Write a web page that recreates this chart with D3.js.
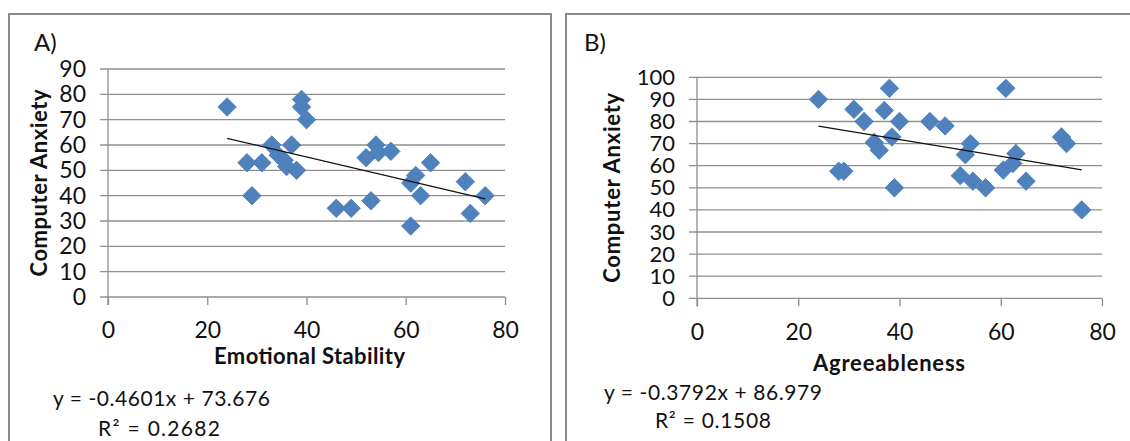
<!DOCTYPE html>
<html>
<head>
<meta charset="utf-8">
<script src="https://cdn.jsdelivr.net/npm/d3@7"></script>
<style>
  html, body { margin: 0; padding: 0; background: #fff; }
  svg { display: block; }
  text { font-family: Lato, "Open Sans", sans-serif; fill: #111; }
</style>
</head>
<body>
<svg id="chart" width="1130" height="441"></svg>
<script>
// ---- Data ----
const panelLabels = ["A)", "B)"];
const xTitles = ["Emotional Stability", "Agreeableness"];
const yTitle = "Computer Anxiety";
const xTickValues = [0, 20, 40, 60, 80];
const yTickValuesA = [0, 10, 20, 30, 40, 50, 60, 70, 80, 90];
const yTickValuesB = [0, 10, 20, 30, 40, 50, 60, 70, 80, 90, 100];

// Panel A: Emotional Stability vs Computer Anxiety
const esX = [24, 28, 29, 31, 33, 34.3, 35.5, 36, 37, 38, 39, 39, 40, 46, 49, 52, 53, 54, 54.5, 57, 61, 61, 62, 63, 65, 72, 73, 76];
const esY = [75, 53, 40, 53, 60, 56, 54, 51.5, 60, 50, 78, 75, 70, 35, 35, 55, 38, 60, 57, 57.5, 28, 45, 48, 40, 53, 45.5, 33, 40];
const trendA = { slope: -0.4601, intercept: 73.676, r2: 0.2682 };
const eqTextA = ["y = -0.4601x + 73.676", "R\u00B2 = 0.2682"];

// Panel B: Agreeableness vs Computer Anxiety
const agX = [24, 28, 29, 31, 33, 35, 36, 37, 38, 38.5, 39, 40, 46, 49, 52, 53, 54, 54.5, 57, 61, 60.5, 62.4, 63, 65, 72, 73, 76];
const agY = [90, 57.5, 57.5, 85.5, 80, 70.5, 67, 85, 95, 73, 50, 80, 80, 78, 55.5, 65, 70, 53, 50, 95, 58, 61, 65.5, 53, 73, 70, 40];
const trendB = { slope: -0.3792, intercept: 86.979, r2: 0.1508 };
const eqTextB = ["y = -0.3792x + 86.979", "R\u00B2 = 0.1508"];

// ---- Layout ----
const panels = [
  { label: panelLabels[0], xs: esX, ys: esY, trend: trendA, eq: eqTextA, xTitle: xTitles[0],
    yTicks: yTickValuesA, yMax: 90, yTickFont: 23,
    box: { x: 9, y: 14, w: 542, h: 460 },
    xr: [108, 505], yr: [297, 69],
    labelPos: [34, 51], yTitleX: 47, yTitleLen: 187, xTitleX: 309.5, xTitleY: 364, xTitleLen: 191,
    eqPos: [53, 406], eqLen: 217, r2Pos: [98, 436], r2Len: 122 },
  { label: panelLabels[1], xs: agX, ys: agY, trend: trendB, eq: eqTextB, xTitle: xTitles[1],
    yTicks: yTickValuesB, yMax: 100, yTickFont: 22,
    box: { x: 566, y: 14, w: 600, h: 460 },
    xr: [697, 1102], yr: [298.3, 77.3],
    labelPos: [584, 51], yTitleX: 620, yTitleLen: 190, xTitleX: 889, xTitleY: 370.5, xTitleLen: 152,
    eqPos: [604, 400], eqLen: 218, r2Pos: [655, 428], r2Len: 116 }
];

const svg = d3.select("#chart");
const gridColor = "#8f8f8f";
const markerFill = "#4f81bd";
const markerStroke = "#4a7ebb";
const diamond = d3.symbol().type(d3.symbolSquare).size(170);

panels.forEach(p => {
  const g = svg.append("g");
  g.append("rect")
    .attr("x", p.box.x).attr("y", p.box.y).attr("width", p.box.w).attr("height", p.box.h)
    .attr("fill", "#fff").attr("stroke", "#8a8a8a").attr("stroke-width", 2);

  const x = d3.scaleLinear().domain([0, 80]).range(p.xr);
  const y = d3.scaleLinear().domain([0, p.yMax]).range(p.yr);
  const tick = 8;

  // horizontal gridlines (extend past the axis as outside ticks)
  g.append("g").selectAll("line").data(p.yTicks).join("line")
    .attr("x1", x(0) - tick).attr("x2", x(80))
    .attr("y1", d => y(d)).attr("y2", d => y(d))
    .attr("stroke", gridColor).attr("stroke-width", 1.3);

  // y axis labels
  const yAxis = d3.axisLeft(y).tickValues(p.yTicks).tickSize(0).tickPadding(0).tickFormat(d3.format("d"));
  const yg = g.append("g").attr("transform", `translate(${x(0) - 22},0)`).call(yAxis);
  yg.select(".domain").remove();
  yg.selectAll("text").attr("font-size", p.yTickFont).attr("fill", "#111").attr("font-family", "Lato");

  // x axis
  const xAxis = d3.axisBottom(x).tickValues(xTickValues).tickSize(tick).tickPadding(17).tickFormat(d3.format("d"));
  const xg = g.append("g").attr("transform", `translate(0,${y(0)})`).call(xAxis);
  xg.select(".domain").remove();
  xg.selectAll("line").attr("stroke", gridColor).attr("stroke-width", 1.3);
  xg.selectAll("text").attr("font-size", 23).attr("fill", "#111").attr("font-family", "Lato")
    .attr("dy", "0.71em");

  // vertical axis line
  g.append("line")
    .attr("x1", x(0)).attr("x2", x(0)).attr("y1", y(p.yMax)).attr("y2", y(0) + tick)
    .attr("stroke", gridColor).attr("stroke-width", 1.3);

  // markers
  const pts = p.xs.map((v, i) => [v, p.ys[i]]);
  g.append("g").selectAll("path").data(pts).join("path")
    .attr("d", diamond)
    .attr("transform", d => `translate(${x(d[0])},${y(d[1])}) rotate(45)`)
    .attr("fill", markerFill).attr("stroke", markerStroke).attr("stroke-width", 0.8);

  // trend line
  const xmin = d3.min(p.xs), xmax = d3.max(p.xs);
  const f = v => p.trend.slope * v + p.trend.intercept;
  g.append("line")
    .attr("x1", x(xmin)).attr("y1", y(f(xmin)))
    .attr("x2", x(xmax)).attr("y2", y(f(xmax)))
    .attr("stroke", "#111").attr("stroke-width", 1.3);

  // panel label
  g.append("text").attr("x", p.labelPos[0]).attr("y", p.labelPos[1])
    .attr("font-size", 24).text(p.label);

  // y title
  const yMid = (p.yr[0] + p.yr[1]) / 2;
  g.append("text")
    .attr("transform", `translate(${p.yTitleX},${yMid}) rotate(-90)`)
    .attr("text-anchor", "middle").attr("font-size", 22).attr("font-weight", "bold")
    .attr("textLength", p.yTitleLen).attr("lengthAdjust", "spacing")
    .text(yTitle);

  // x title
  g.append("text").attr("x", p.xTitleX).attr("y", p.xTitleY)
    .attr("text-anchor", "middle").attr("font-size", 22).attr("font-weight", "bold")
    .attr("textLength", p.xTitleLen).attr("lengthAdjust", "spacing")
    .text(p.xTitle);

  // equation
  g.append("text").attr("x", p.eqPos[0]).attr("y", p.eqPos[1]).attr("font-size", 21)
    .attr("textLength", p.eqLen).attr("lengthAdjust", "spacing").text(p.eq[0]);
  g.append("text").attr("x", p.r2Pos[0]).attr("y", p.r2Pos[1]).attr("font-size", 21)
    .attr("textLength", p.r2Len).attr("lengthAdjust", "spacing").text(p.eq[1]);
});
</script>
</body>
</html>
